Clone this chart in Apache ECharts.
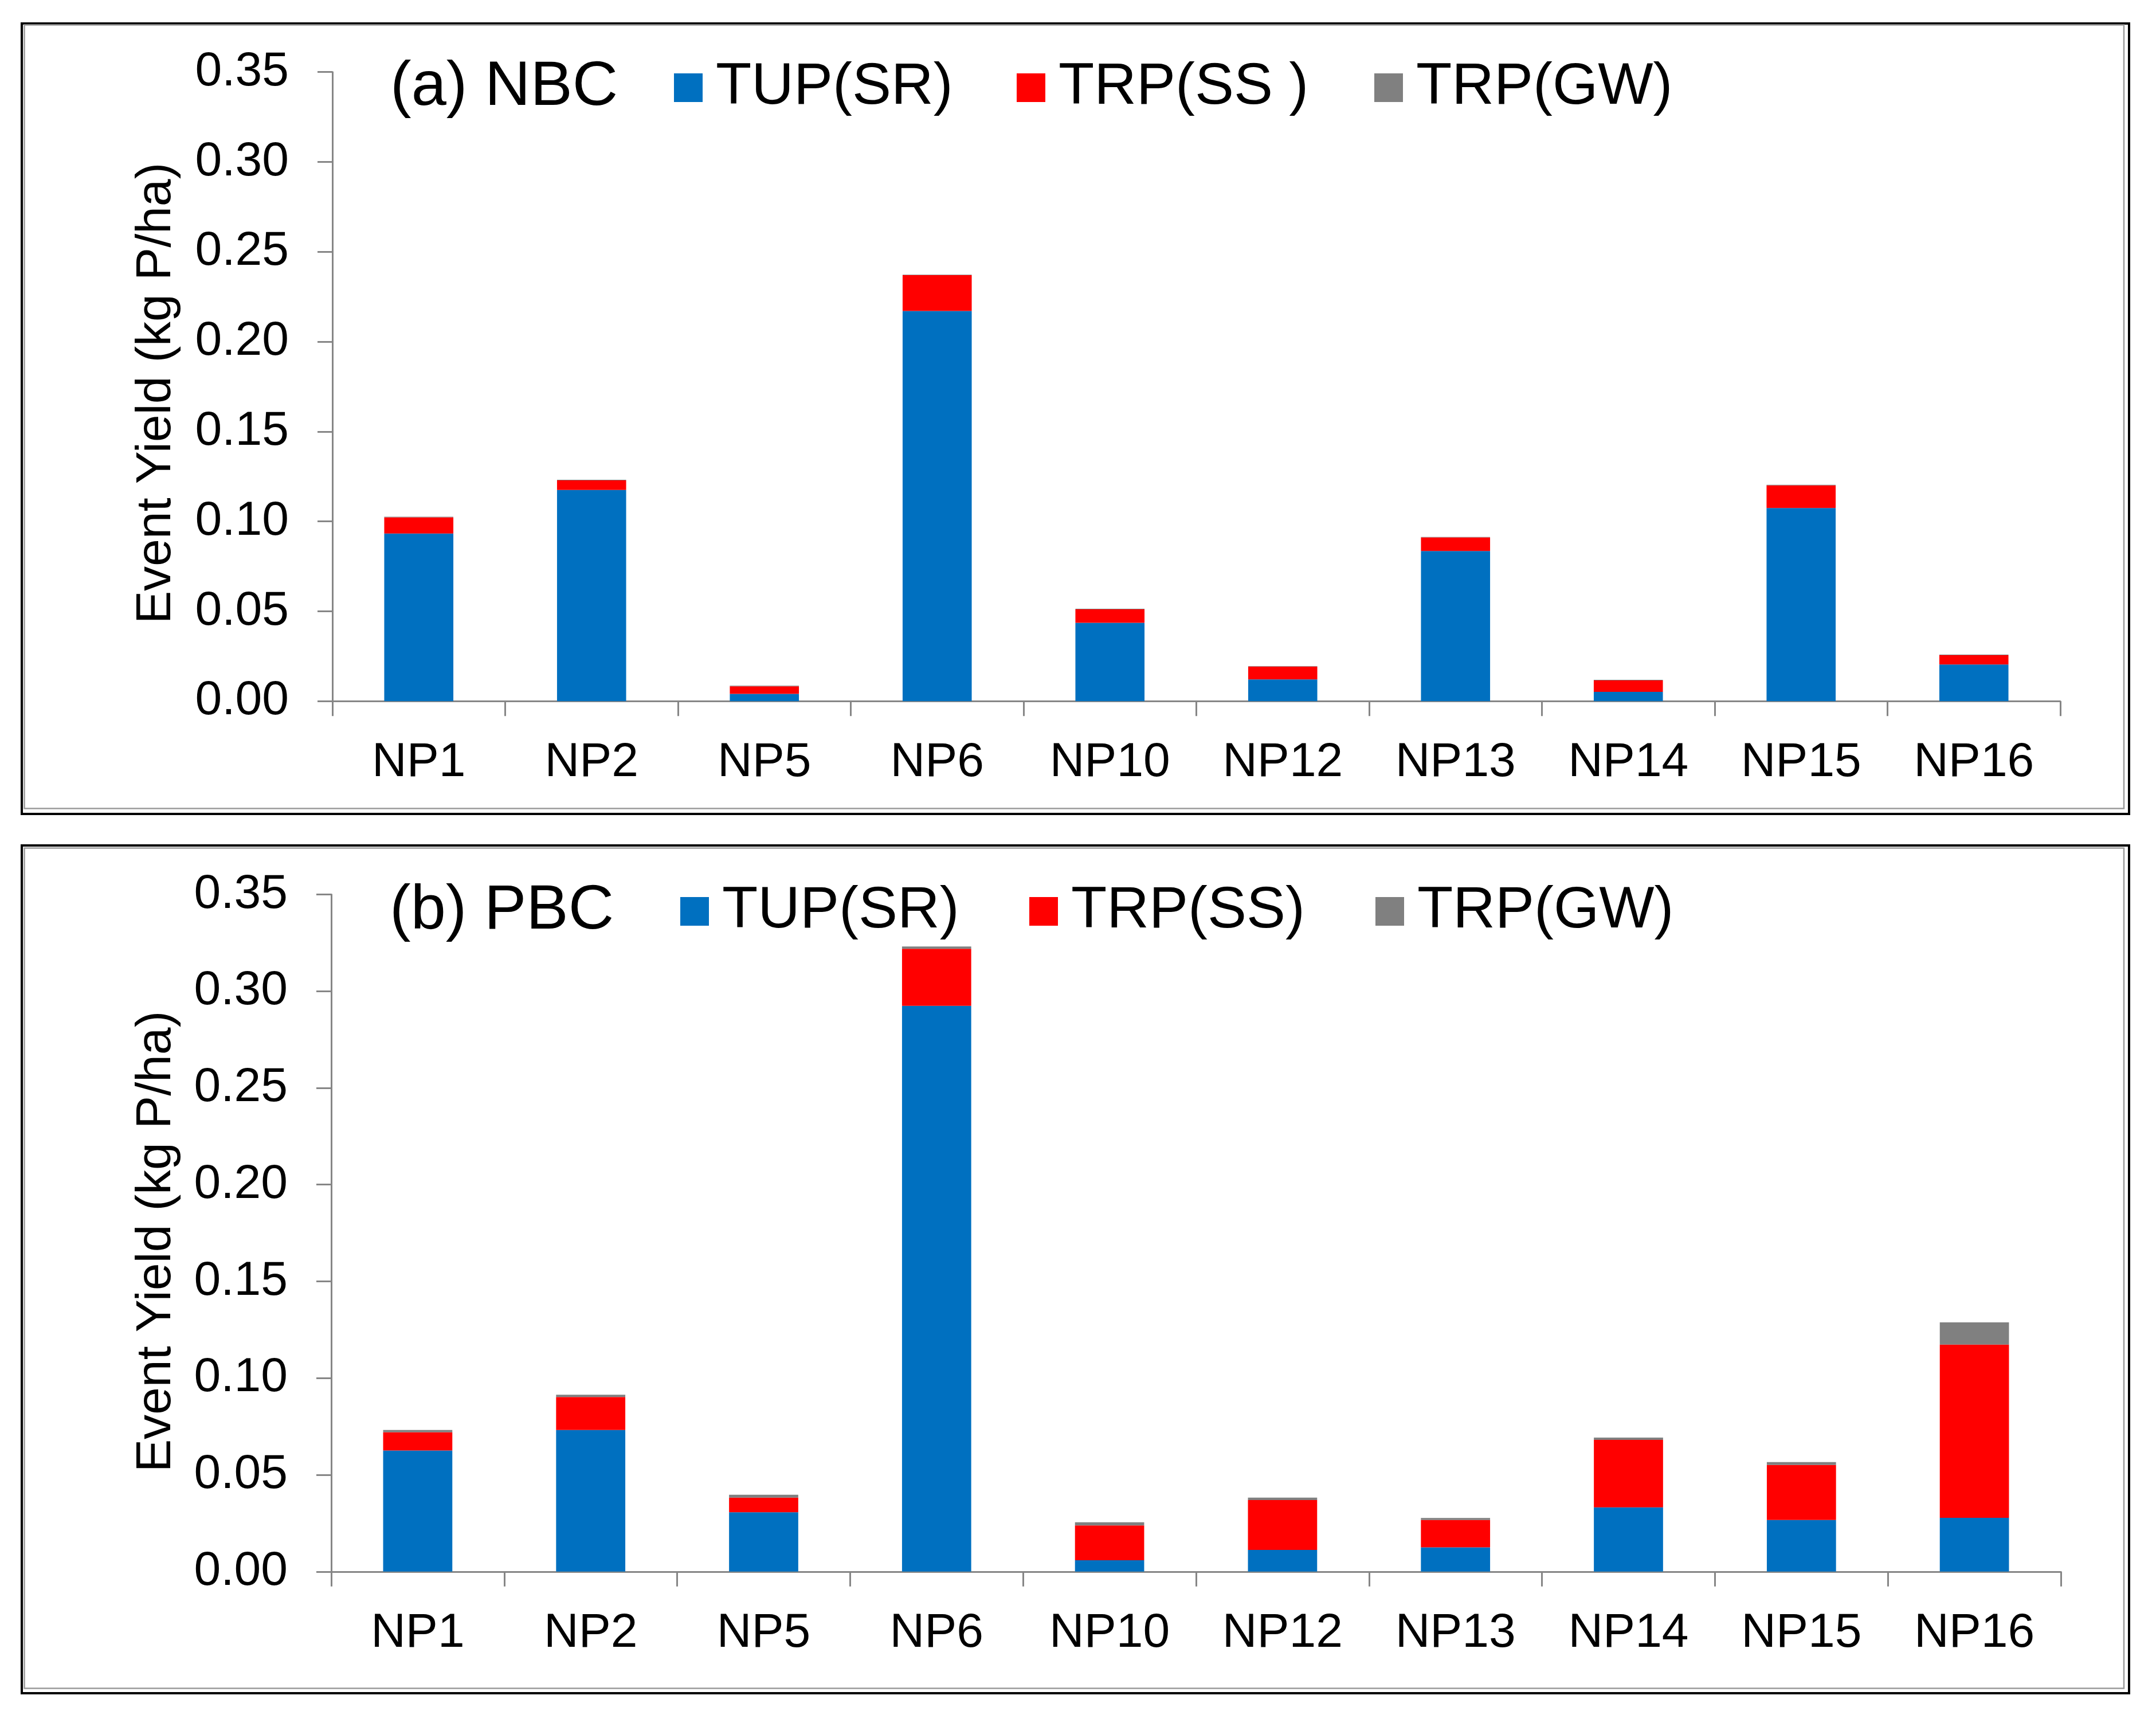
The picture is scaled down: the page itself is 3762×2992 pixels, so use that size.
<!DOCTYPE html>
<html>
<head>
<meta charset="utf-8">
<style>
  html, body { margin: 0; padding: 0; background: #ffffff; }
  #chart { width: 3762px; height: 2992px; }
</style>
<script src="https://cdn.jsdelivr.net/npm/echarts@6/dist/echarts.min.js"></script>
</head>
<body>
<div id="chart"></div>
<script>
// ---------- data ----------
const categories = ['NP1', 'NP2', 'NP5', 'NP6', 'NP10', 'NP12', 'NP13', 'NP14', 'NP15', 'NP16'];
const yTicks = [0.00, 0.05, 0.10, 0.15, 0.20, 0.25, 0.30, 0.35];

// (a) NBC
const nbcTupSR = [0.0933, 0.1175, 0.0041, 0.2171, 0.0436, 0.0121, 0.0836, 0.0052, 0.1075, 0.0204];
const nbcTrpSS = [0.0090, 0.0054, 0.0042, 0.0199, 0.0075, 0.0071, 0.0075, 0.0064, 0.0126, 0.0052];
const nbcTrpGW = [0.0003, 0.0003, 0.0003, 0.0003, 0.0003, 0.0003, 0.0003, 0.0003, 0.0003, 0.0003];

// (b) PBC
const pbcTupSR = [0.0626, 0.0732, 0.0307, 0.2924, 0.0059, 0.0112, 0.0125, 0.0332, 0.0267, 0.0278];
const pbcTrpSS = [0.0094, 0.0170, 0.0075, 0.0295, 0.0180, 0.0258, 0.0142, 0.0349, 0.0284, 0.0895];
const pbcTrpGW = [0.0012, 0.0012, 0.0015, 0.0012, 0.0016, 0.0012, 0.0010, 0.0012, 0.0015, 0.0115];

const panelTitles = ['(a) NBC', '(b) PBC'];
const legendNamesA = ['TUP(SR)', 'TRP(SS )', 'TRP(GW)'];
const legendNamesB = ['TUP(SR)', 'TRP(SS)', 'TRP(GW)'];
const yAxisTitle = 'Event Yield (kg P/ha)';

// ---------- styling ----------
const FONT = '"Liberation Sans", Arial, Helvetica, sans-serif';
const COLORS = ['#0070C0', '#FF0000', '#808080'];
const AXIS_COLOR = '#868686';

const chart = echarts.init(document.getElementById('chart'), null, { renderer: 'canvas' });

function xAxisFor(gridIndex, margin) {
  return {
    type: 'category',
    gridIndex: gridIndex,
    data: categories,
    boundaryGap: true,
    axisLine: { show: true, lineStyle: { color: AXIS_COLOR, width: 3 } },
    axisTick: { show: true, alignWithLabel: false, interval: 0, length: 26, inside: false,
                lineStyle: { color: AXIS_COLOR, width: 3 } },
    axisLabel: { show: true, interval: 0, margin: margin, color: '#000', fontSize: 84, fontFamily: FONT },
    splitLine: { show: false }
  };
}
function yAxisFor(gridIndex) {
  return {
    type: 'value',
    gridIndex: gridIndex,
    min: yTicks[0],
    max: yTicks[yTicks.length - 1],
    interval: 0.05,
    axisLine: { show: true, lineStyle: { color: AXIS_COLOR, width: 3 } },
    axisTick: { show: true, length: 26, inside: false, lineStyle: { color: AXIS_COLOR, width: 3 } },
    axisLabel: { show: true, margin: 76, color: '#000', fontSize: 84, fontFamily: FONT,
                 formatter: v => v.toFixed(2) },
    splitLine: { show: false }
  };
}

function barSeries(name, data, stack, idx, color) {
  return {
    name: name,
    type: 'bar',
    stack: stack,
    xAxisIndex: idx,
    yAxisIndex: idx,
    data: data,
    barWidth: '40%',
    itemStyle: { color: color },
    emphasis: { disabled: true },
    animation: false
  };
}

function legendItem(name, left, top) {
  return {
    data: [name],
    left: left,
    top: top,
    orient: 'horizontal',
    padding: 0,
    icon: 'rect',
    itemWidth: 50,
    itemHeight: 50,
    selectedMode: false,
    textStyle: { color: '#000', fontSize: 102, fontFamily: FONT, lineHeight: 106, padding: [0, 0, 0, 18] }
  };
}

const option = {
  backgroundColor: '#ffffff',
  animation: false,
  title: [
    { text: panelTitles[0], left: 681, top: 98, padding: 0,
      textStyle: { color: '#000', fontSize: 110, fontWeight: 'normal', fontFamily: FONT, lineHeight: 110 } },
    { text: panelTitles[1], left: 680, top: 1535, padding: 0,
      textStyle: { color: '#000', fontSize: 110, fontWeight: 'normal', fontFamily: FONT, lineHeight: 110 } }
  ],
  legend: [
    legendItem(legendNamesA[0], 1176, 100),
    legendItem(legendNamesA[1], 1774, 100),
    legendItem(legendNamesA[2], 2398, 100),
    legendItem(legendNamesB[0], 1187, 1537),
    legendItem(legendNamesB[1], 1796, 1537),
    legendItem(legendNamesB[2], 2400, 1537)
  ],
  grid: [
    { left: 580, right: 167, top: 125.7, bottom: 2992 - 1223.3, containLabel: false },
    { left: 578, right: 166, top: 1560.4, bottom: 2992 - 2741.8, containLabel: false }
  ],
  xAxis: [xAxisFor(0, 66), xAxisFor(1, 66)],
  yAxis: [yAxisFor(0), yAxisFor(1)],
  series: [
    barSeries(legendNamesA[0], nbcTupSR, 'a', 0, COLORS[0]),
    barSeries(legendNamesA[1], nbcTrpSS, 'a', 0, COLORS[1]),
    barSeries(legendNamesA[2], nbcTrpGW, 'a', 0, COLORS[2]),
    barSeries(legendNamesB[0], pbcTupSR, 'b', 1, COLORS[0]),
    barSeries(legendNamesB[1], pbcTrpSS, 'b', 1, COLORS[1]),
    barSeries(legendNamesB[2], pbcTrpGW, 'b', 1, COLORS[2])
  ],
  graphic: [
    // panel frames
    { type: 'rect', shape: { x: 38, y: 41, width: 3677, height: 1379 }, z: 0,
      style: { fill: null, stroke: '#000', lineWidth: 4 } },
    { type: 'rect', shape: { x: 42.5, y: 43.5, width: 3663.5, height: 1367 }, z: 0,
      style: { fill: null, stroke: '#9a9a9a', lineWidth: 2.5 } },
    { type: 'rect', shape: { x: 38, y: 1475, width: 3677, height: 1479 }, z: 0,
      style: { fill: null, stroke: '#000', lineWidth: 4 } },
    { type: 'rect', shape: { x: 42.5, y: 1479.5, width: 3663.5, height: 1466 }, z: 0,
      style: { fill: null, stroke: '#9a9a9a', lineWidth: 2.5 } },
    // y-axis titles
    { type: 'text', x: 273, y: 686, rotation: Math.PI / 2, z: 5,
      style: { text: yAxisTitle, fill: '#000', font: '86px ' + FONT, textAlign: 'center', textVerticalAlign: 'middle' } },
    { type: 'text', x: 273, y: 2166, rotation: Math.PI / 2, z: 5,
      style: { text: yAxisTitle, fill: '#000', font: '86px ' + FONT, textAlign: 'center', textVerticalAlign: 'middle' } }
  ]
};

chart.setOption(option);
</script>
</body>
</html>
